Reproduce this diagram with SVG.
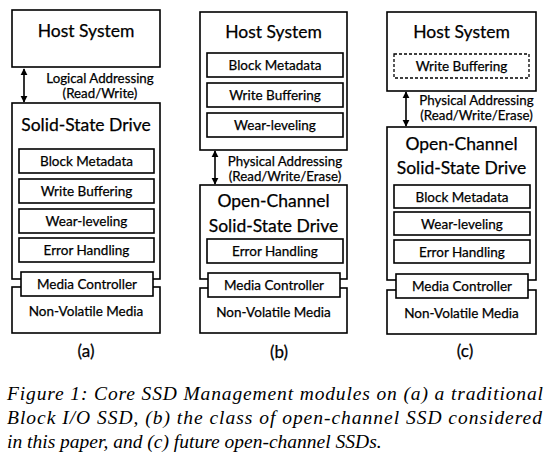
<svg xmlns="http://www.w3.org/2000/svg" width="553" height="468" viewBox="0 0 553 468">
<style>
  .box{fill:#fff;stroke:#000;stroke-width:1.6}
  .dash{fill:#fff;stroke:#000;stroke-width:1.3;stroke-dasharray:3,2}
  .t{font-family:Lato,"Liberation Sans",sans-serif;fill:#000;stroke:#000;stroke-width:0.25;text-anchor:middle}
  .big{font-size:17.5px}
  .mid{font-size:17.5px}
  .sm{font-size:13.5px}
  .lab{font-size:13.3px}
  .pl{font-size:17px}
  .cap{font-family:"Liberation Serif","Times New Roman",serif;font-style:italic;font-size:19.5px;fill:#000}
  .ln{stroke:#000;stroke-width:1.6;fill:none}
</style>
<defs>
  <marker id="ah" viewBox="0 0 10 10" refX="9" refY="5" markerWidth="4.5" markerHeight="4.5" orient="auto-start-reverse">
    <path d="M0,0 L10,5 L0,10 z" fill="#000"/>
  </marker>
</defs>

<!-- Panel (a) -->
<g id="a-host">
  <rect class="box" x="12" y="10" width="148" height="57"/>
  <text class="t big" x="86" y="37">Host System</text>
</g>
<g id="a-ssd">
  <rect class="box" x="12" y="103" width="148" height="176"/>
  <text class="t mid" x="86" y="131">Solid-State Drive</text>
</g>
<g id="a-block">
  <rect class="box" x="19" y="149" width="135" height="24"/>
  <text class="t sm" x="86.5" y="166">Block Metadata</text>
</g>
<g id="a-write">
  <rect class="box" x="19" y="179" width="135" height="24"/>
  <text class="t sm" x="86.5" y="196">Write Buffering</text>
</g>
<g id="a-wear">
  <rect class="box" x="19" y="209" width="135" height="24"/>
  <text class="t sm" x="86.5" y="226">Wear-leveling</text>
</g>
<g id="a-error">
  <rect class="box" x="19" y="238" width="135" height="24"/>
  <text class="t sm" x="86.5" y="255">Error Handling</text>
</g>
<g id="a-nvm">
  <rect class="box" x="12" y="287" width="148" height="46"/>
  <text class="t sm" x="86" y="316">Non-Volatile Media</text>
</g>
<g id="a-mc">
  <rect class="box" x="21" y="272" width="132" height="24"/>
  <text class="t sm" x="87" y="289">Media Controller</text>
</g>
<text class="t pl" x="86" y="357">(a)</text>

<!-- Panel (b) -->
<g id="b-host">
  <rect class="box" x="200" y="12" width="147" height="138"/>
  <text class="t big" x="273.5" y="38">Host System</text>
</g>
<g id="b-block">
  <rect class="box" x="207" y="53" width="136" height="24"/>
  <text class="t sm" x="275" y="70">Block Metadata</text>
</g>
<g id="b-write">
  <rect class="box" x="207" y="83" width="136" height="24"/>
  <text class="t sm" x="275" y="100">Write Buffering</text>
</g>
<g id="b-wear">
  <rect class="box" x="207" y="113" width="136" height="24"/>
  <text class="t sm" x="275" y="130">Wear-leveling</text>
</g>
<g id="b-ssd">
  <rect class="box" x="200" y="185" width="147" height="94"/>
  <text class="t mid" x="273.5" y="207">Open-Channel</text>
  <text class="t mid" x="273.5" y="232">Solid-State Drive</text>
</g>
<g id="b-error">
  <rect class="box" x="207" y="239" width="136" height="24"/>
  <text class="t sm" x="275" y="256">Error Handling</text>
</g>
<g id="b-nvm">
  <rect class="box" x="200" y="288" width="147" height="45"/>
  <text class="t sm" x="273.5" y="317">Non-Volatile Media</text>
</g>
<g id="b-mc">
  <rect class="box" x="208" y="273" width="132" height="24"/>
  <text class="t sm" x="274" y="290">Media Controller</text>
</g>
<text class="t pl" x="279" y="358">(b)</text>

<!-- Panel (c) -->
<g id="c-host">
  <rect class="box" x="387" y="12" width="149" height="79"/>
  <text class="t big" x="461.5" y="38">Host System</text>
</g>
<g id="c-write">
  <rect class="dash" x="394" y="54" width="135" height="24"/>
  <text class="t sm" x="461.5" y="71">Write Buffering</text>
</g>
<g id="c-ssd">
  <rect class="box" x="387" y="127" width="149" height="153"/>
  <text class="t mid" x="461.5" y="150">Open-Channel</text>
  <text class="t mid" x="461.5" y="174">Solid-State Drive</text>
</g>
<g id="c-block">
  <rect class="box" x="394" y="185" width="136" height="23"/>
  <text class="t sm" x="462" y="201.5">Block Metadata</text>
</g>
<g id="c-wear">
  <rect class="box" x="394" y="212" width="136" height="23"/>
  <text class="t sm" x="462" y="228.5">Wear-leveling</text>
</g>
<g id="c-error">
  <rect class="box" x="394" y="240" width="136" height="23"/>
  <text class="t sm" x="462" y="256.5">Error Handling</text>
</g>
<g id="c-nvm">
  <rect class="box" x="387" y="290" width="149" height="44"/>
  <text class="t sm" x="461.5" y="318">Non-Volatile Media</text>
</g>
<g id="c-mc">
  <rect class="box" x="396" y="274" width="132" height="24"/>
  <text class="t sm" x="462" y="291">Media Controller</text>
</g>
<text class="t pl" x="465" y="357">(c)</text>

<!-- Connectors -->
<g id="connectors">
  <line class="ln" x1="24" y1="69" x2="24" y2="102" marker-start="url(#ah)" marker-end="url(#ah)"/>
  <line class="ln" x1="215" y1="151" x2="215" y2="184" marker-start="url(#ah)" marker-end="url(#ah)"/>
  <line class="ln" x1="406" y1="92" x2="406" y2="126" marker-start="url(#ah)" marker-end="url(#ah)"/>
  <text class="t lab" x="100" y="83">Logical Addressing</text>
  <text class="t lab" x="100" y="98">(Read/Write)</text>
  <text class="t lab" x="285" y="166">Physical Addressing</text>
  <text class="t lab" x="285" y="181">(Read/Write/Erase)</text>
  <text class="t lab" x="476.5" y="105">Physical Addressing</text>
  <text class="t lab" x="476.5" y="120">(Read/Write/Erase)</text>
</g>

<!-- Caption -->
<text class="cap" x="7" y="400" textLength="536" lengthAdjust="spacing">Figure 1: Core SSD Management modules on (a) a traditional</text>
<text class="cap" x="7" y="424" textLength="535" lengthAdjust="spacing">Block I/O SSD, (b) the class of open-channel SSD considered</text>
<text class="cap" x="7" y="448">in this paper, and (c) future open-channel SSDs.</text>
</svg>
